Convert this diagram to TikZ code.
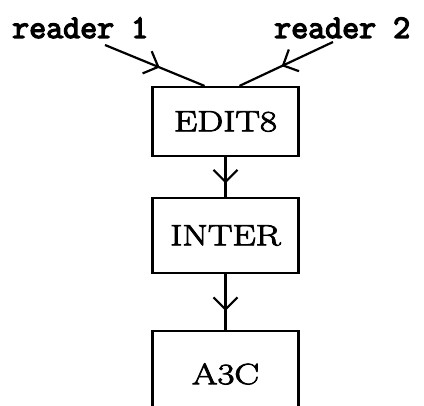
\documentclass[tikz,border=0pt]{standalone}
\usepackage{fontspec}
\newfontfamily\boxfont{Latin Modern Roman}[FakeBold=2.5]
\newfontfamily\rdfont{Latin Modern Mono}[FakeBold=4]
\usetikzlibrary{arrows.meta,decorations.markings}
\tikzset{
  box/.style={draw, line width=2.2pt, minimum width=146pt, inner sep=0pt,
    font=\boxfont\fontsize{29.5}{31}\selectfont},
  lbl/.style={anchor=base west, inner sep=0pt,
    font=\rdfont\fontsize{33}{35}\selectfont},
  midarrow/.style={line width=2.2pt, postaction={decorate},
    decoration={markings, mark=at position #1 with {\arrow{Straight Barb[length=12pt,width=24pt,line width=2.2pt]}}}},
}
\newcommand{\wide}[1]{\scalebox{1.25}[1]{#1}}
\begin{document}
\begin{tikzpicture}[x=1pt,y=-1pt]
\useasboundingbox (0,0) rectangle (424,406);
\node[lbl] (r1) at (12,38) {reader 1};
\node[lbl] (r2) at (274,38) {reader 2};
\node[box, minimum height=69pt] (e) at (225.5,121.5) {\wide{EDIT8}};
\node[box, minimum height=75pt] (i) at (225.5,235.5) {\wide{INTER}};
\node[box, minimum height=86pt] (a) at (225.5,374) {\wide{A3C}};
\coordinate (s1) at (105,45);
\coordinate (s2) at (333,42);
\coordinate (t1) at ([xshift=-21pt]e.north);
\coordinate (t2) at ([xshift=14pt]e.north);
\draw[midarrow=0.55] (s1) -- (t1);
\draw[midarrow=0.55] (s2) -- (t2);
\draw[midarrow=0.66] (e.south) -- (i.north);
\draw[midarrow=0.66] (i.south) -- (a.north);
\end{tikzpicture}
\end{document}
